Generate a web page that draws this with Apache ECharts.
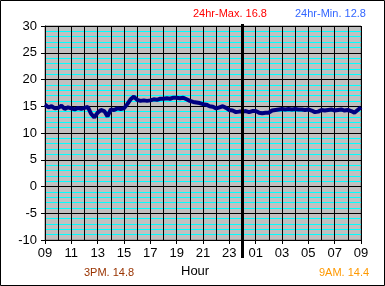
<!DOCTYPE html>
<html><head><meta charset="utf-8">
<script src="https://cdn.jsdelivr.net/npm/echarts@6/dist/echarts.min.js"></script>
<style>html,body{margin:0;padding:0;background:#fff}#c{width:385px;height:286px}</style>
</head><body><div id="c"></div>
<script>
// hours since 09:00, values every 15 minutes
const startHour = 9;
const temps = [
 15.3, 14.8, 15.0, 14.6,   // 09
 14.7, 15.1, 14.5, 14.8,   // 10
 14.6, 14.4, 14.7, 14.5,   // 11
 14.7, 14.9, 13.6, 12.9,   // 12
 13.8, 14.3, 14.1, 13.1,   // 13
 14.4, 14.3, 14.6, 14.5,   // 14
 14.6, 15.4, 16.3, 16.8,   // 15
 16.2, 16.0, 16.1, 16.0,   // 16
 16.1, 16.3, 16.2, 16.4,   // 17
 16.4, 16.5, 16.4, 16.6,   // 18
 16.6, 16.5, 16.6, 16.3,   // 19
 16.0, 15.8, 15.7, 15.6,   // 20
 15.4, 15.3, 15.0, 14.9,   // 21
 14.6, 14.8, 15.0, 14.7,   // 22
 14.3, 14.2, 13.9, 14.0,   // 23
 14.0, 14.1, 13.9, 14.1,   // 00
 14.1, 13.8, 13.7, 13.8,   // 01
 13.8, 14.2, 14.3, 14.4,   // 02
 14.5, 14.4, 14.5, 14.4,   // 03
 14.5, 14.4, 14.4, 14.3,   // 04
 14.4, 14.2, 13.9, 14.0,   // 05
 14.3, 14.2, 14.3, 14.4,   // 06
 14.2, 14.3, 14.4, 14.2,   // 07
 14.3, 14.1, 13.8, 14.3,   // 08
 14.8                      // 09
];
const stepHours = 0.25;
const midnightOffset = 15;
const yTicks = [-10, 30, 5];
const maxText = '24hr-Max. 16.8';
const minText = '24hr-Min. 12.8';
const pmText = '3PM. 14.8';
const amText = '9AM. 14.4';
const xName = 'Hour';

const seriesData = temps.map((v, i) => [i * stepHours, v]);
const pad = n => (n < 10 ? '0' : '') + n;
const font = '"Liberation Sans", Arial, sans-serif';

const chart = echarts.init(document.getElementById('c'), null, {renderer: 'canvas'});
chart.setOption({
  animation: false,
  backgroundColor: '#fff',
  grid: [
    {left: 45, right: 24, top: 26, bottom: 46, show: true, backgroundColor: '#c0c0c0', borderColor: '#808080', borderWidth: 1},
    {left: 45, right: 24, top: 24, bottom: 28, show: false}
  ],
  xAxis: [{
    type: 'value', gridIndex: 0, min: 0, max: 24, interval: 2,
    axisLine: {show: true, onZero: false, lineStyle: {color: '#000', width: 1}},
    axisTick: {show: true, inside: false, length: 4, lineStyle: {color: '#000'}},
    axisLabel: {color: '#000', fontSize: 13, fontFamily: font, margin: 7,
      formatter: v => pad((v + startHour) % 24)},
    splitLine: {show: true, lineStyle: {color: '#000', width: 1}},
    minorTick: {show: false, splitNumber: 2},
    minorSplitLine: {show: true, lineStyle: {color: '#000', width: 1}}
  }, {
    type: 'value', gridIndex: 1, min: 0, max: 24, show: false
  }],
  yAxis: [{
    type: 'value', gridIndex: 0, min: yTicks[0], max: yTicks[1], interval: yTicks[2],
    axisLine: {show: true, onZero: false, lineStyle: {color: '#000', width: 1}},
    axisTick: {show: true, length: 4, lineStyle: {color: '#000'}},
    axisLabel: {color: '#000', fontSize: 13, fontFamily: font, margin: 8},
    splitLine: {show: true, lineStyle: {color: '#000', width: 1}},
    minorTick: {show: false, splitNumber: 5},
    minorSplitLine: {show: true, lineStyle: {color: '#00ffff', width: 1}}
  }, {
    type: 'value', gridIndex: 1, min: 0, max: 1, show: false
  }],
  series: [{
    type: 'line', xAxisIndex: 0, yAxisIndex: 0, data: seriesData,
    showSymbol: false, symbol: 'none',
    lineStyle: {color: '#000080', width: 4}, z: 5
  }, {
    type: 'line', xAxisIndex: 1, yAxisIndex: 1,
    data: [[midnightOffset, 0], [midnightOffset, 1]],
    showSymbol: false, symbol: 'none',
    lineStyle: {color: '#000', width: 3}, z: 6
  }],
  graphic: [
    {type: 'rect', shape: {x: 0.5, y: 0.5, width: 384, height: 285}, style: {fill: null, stroke: '#000', lineWidth: 1}, silent: true},
    {type: 'text', left: 193, top: 8, style: {text: maxText, fill: '#ff0000', font: '11px ' + font}},
    {type: 'text', left: 295, top: 8, style: {text: minText, fill: '#3366ff', font: '11px ' + font}},
    {type: 'text', left: 84, top: 267, style: {text: pmText, fill: '#993300', font: '11px ' + font}},
    {type: 'text', left: 181, top: 265, style: {text: xName, fill: '#000', font: '13px ' + font}},
    {type: 'text', left: 319, top: 267, style: {text: amText, fill: '#ff9900', font: '11px ' + font}}
  ]
});
</script></body></html>
